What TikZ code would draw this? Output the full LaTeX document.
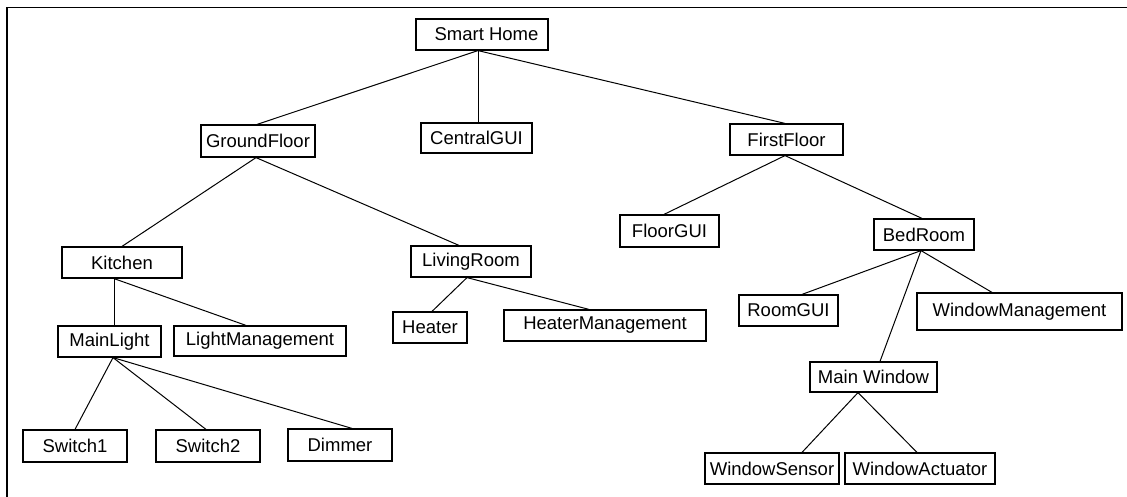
\documentclass[tikz,border=0pt]{standalone}
\usepackage{fontspec}
\setmainfont{Liberation Sans}
\begin{document}
\begin{tikzpicture}[x=1pt,y=-1pt,
  box/.style={draw, line width=1.2pt, inner sep=0pt, rectangle,
    font=\fontsize{18.5}{22}\selectfont},
  link/.style={line width=1pt}]
\useasboundingbox (0,0) rectangle (1127,497);
% outer frame (only its left and top edges fall on the page)
\draw[line width=1.2pt] (7,7.5) rectangle (1160,530);

% \boxnode{name}{cx}{cy}{width}{height}{label}
\newcommand\boxnode[6]{%
  \node[box, minimum width=#4pt, minimum height=#5pt] (#1) at (#2,#3) {#6};}

\boxnode{SH}{482}{34.5}{132}{31}{\hspace*{9pt}Smart Home}
\boxnode{GF}{258}{141}{114}{32}{GroundFloor}
\boxnode{CG}{476.5}{138}{111}{30}{CentralGUI}
\boxnode{FF}{786.5}{139.5}{113}{31}{FirstFloor}
\boxnode{FG}{669.5}{231}{99}{32}{FloorGUI}
\boxnode{BR}{924}{234.5}{100}{31}{BedRoom}
\boxnode{KI}{122}{262.5}{120}{31}{Kitchen}
\boxnode{LR}{471}{261.5}{120}{31}{LivingRoom}
\boxnode{ML}{109.5}{341.5}{103}{31}{MainLight}
\boxnode{LM}{260}{341}{172}{30}{LightManagement}
\boxnode{HE}{430}{327.5}{74}{31}{Heater}
\boxnode{HM}{605}{325.5}{202}{31}{HeaterManagement}
\boxnode{RG}{788.5}{310.5}{99}{31}{RoomGUI}
\boxnode{WM}{1019.5}{311.5}{205}{37}{WindowManagement}
\boxnode{MW}{873.5}{377}{127}{30}{Main Window}
\boxnode{S1}{75}{446}{104}{32}{Switch1}
\boxnode{S2}{208}{446}{104}{32}{Switch2}
\boxnode{DI}{340}{445}{104}{32}{Dimmer}
\boxnode{WS}{772}{468.5}{134}{31}{WindowSensor}
\boxnode{WA}{920}{468.5}{150}{31}{WindowActuator}

% \tie{parent}{shift on parent}{child}{shift on child}
\newcommand\tie[4]{%
  \draw[link] ([xshift=#2pt]#1.south) -- ([xshift=#4pt]#3.north);}

\tie{SH}{-4}{GF}{-1}
\tie{SH}{-4}{CG}{1.5}
\tie{SH}{-4}{FF}{-1.5}
\tie{GF}{-2}{KI}{0}
\tie{GF}{-2}{LR}{-12}
\tie{FF}{-1.5}{FG}{-5.5}
\tie{FF}{-1.5}{BR}{-2}
\tie{KI}{-8}{ML}{4.5}
\tie{KI}{-8}{LM}{-14}
\tie{ML}{3.5}{S1}{0}
\tie{ML}{3.5}{S2}{-2}
\tie{ML}{3.5}{DI}{12}
\tie{LR}{-4}{HE}{2}
\tie{LR}{-4}{HM}{-16}
\tie{BR}{-3}{RG}{13.5}
\tie{BR}{-3}{WM}{-27.5}
\tie{BR}{-3}{MW}{6.5}
\tie{MW}{-15.5}{WS}{30}
\tie{MW}{-15.5}{WA}{-3}
\end{tikzpicture}
\end{document}
